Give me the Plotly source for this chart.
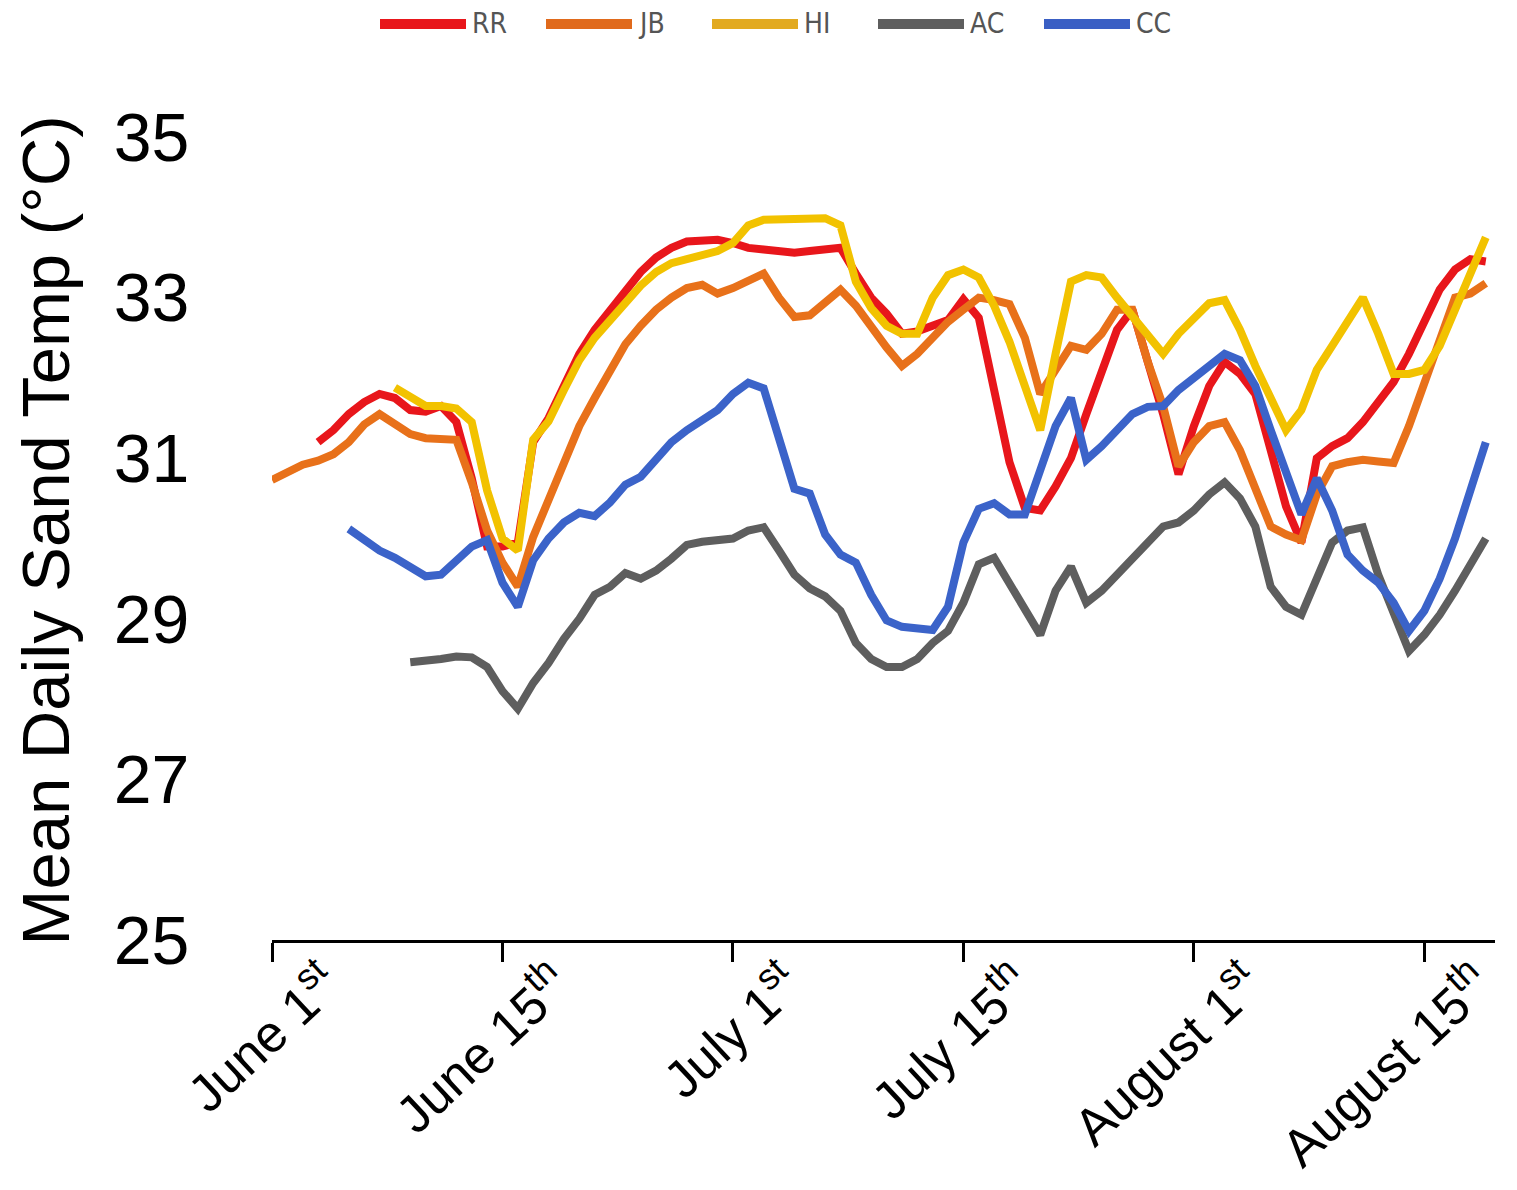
import plotly.graph_objects as go

# Mean daily sand temperature, summer season
# x is the day of the season (June 1st = 0), ticks every 15 days like the original figure

tick_days = [0, 15, 30, 45, 60, 75]
tick_text = ["June 1<sup>st</sup>", "June 15<sup>th</sup>", "July 1<sup>st</sup>",
             "July 15<sup>th</sup>", "August 1<sup>st</sup>", "August 15<sup>th</sup>"]
temp_ticks = [25, 27, 29, 31, 33, 35]

rr_day = list(range(3, 80))
rr_temp = [31.2, 31.35, 31.55, 31.7, 31.8, 31.75, 31.6, 31.58, 31.65, 31.45,
           30.75, 29.9, 29.9, 29.95, 31.2, 31.5, 31.9, 32.3, 32.6, 32.85,
           33.1, 33.32, 33.5, 33.62, 33.7, 33.72, 33.72, 33.68, 33.62, 33.6,
           33.57, 33.56, 33.58, 33.6, 33.62, 33.3, 33.0, 32.8, 32.55, 32.58,
           32.65, 32.72, 32.98, 32.75, 31.85, 30.95, 30.38, 30.35, 30.65, 31.0,
           31.55, 32.1, 32.6, 32.85, 32.2, 31.55, 30.8, 31.4, 31.9, 32.2,
           32.05, 31.8, 31.1, 30.4, 29.95, 31.0, 31.15, 31.25, 31.45, 31.7,
           31.95, 32.3, 32.7, 33.1, 33.35, 33.48, 33.45]

jb_day = list(range(0, 80))
jb_temp = [30.73, 30.82, 30.92, 30.97, 31.05, 31.2, 31.42, 31.55, 31.43, 31.3,
           31.25, 31.24, 31.23, 30.7, 30.1, 29.7, 29.4, 30.02, 30.5, 30.95,
           31.4, 31.75, 32.1, 32.42, 32.65, 32.85, 33.0, 33.12, 33.16, 33.05,
           33.12, 33.2, 33.3, 33.0, 32.76, 32.78, 32.95, 33.1, 32.9, 32.62,
           32.38, 32.15, 32.3, 32.5, 32.7, 32.85, 33.0, 32.97, 32.92, 32.5,
           31.8, 32.1, 32.4, 32.35, 32.55, 32.85, 32.85, 32.2, 31.65, 30.9,
           31.2, 31.4, 31.45, 31.1, 30.6, 30.15, 30.05, 29.98, 30.55, 30.9,
           30.95, 30.98, 30.96, 30.94, 31.4, 31.95, 32.5, 33.0, 33.05, 33.18]

hi_day = list(range(8, 80))
hi_temp = [31.88, 31.75, 31.65, 31.65, 31.62, 31.45, 30.6, 30.0, 29.85, 31.23,
           31.46, 31.85, 32.22, 32.5, 32.72, 32.95, 33.15, 33.32, 33.43, 33.48,
           33.52, 33.58, 33.68, 33.9, 33.97, 33.98, 33.98, 33.98, 33.99, 33.9,
           33.2, 32.87, 32.65, 32.55, 32.55, 33.0, 33.28, 33.35, 33.25, 32.9,
           32.45, 31.9, 31.35, 32.3, 33.2, 33.28, 33.25, 33.0, 32.76, 32.55,
           32.3, 32.55, 32.75, 32.93, 32.97, 32.6, 32.15, 31.75, 31.35, 31.6,
           32.1, 32.4, 32.7, 33.0, 32.55, 32.05, 32.05, 32.1, 32.4, 32.85,
           33.25, 33.75]

ac_day = list(range(9, 80))
ac_temp = [28.46, 28.47, 28.5, 28.53, 28.52, 28.4, 28.1, 27.88, 28.2, 28.45,
           28.75, 29.0, 29.3, 29.4, 29.57, 29.5, 29.6, 29.75, 29.92, 29.96,
           29.97, 30.0, 30.1, 30.14, 29.85, 29.55, 29.38, 29.28, 29.1, 28.7,
           28.5, 28.4, 28.4, 28.5, 28.7, 28.85, 29.2, 29.68, 29.76, 29.45,
           29.1, 28.8, 29.35, 29.65, 29.2, 29.35, 29.55, 29.75, 29.95, 30.15,
           30.2, 30.35, 30.55, 30.7, 30.5, 30.15, 29.4, 29.15, 29.05, 29.5,
           29.95, 30.1, 30.14, 29.55, 29.1, 28.6, 28.8, 29.05, 29.35, 29.7,
           30.0]

cc_day = list(range(5, 80))
cc_temp = [30.12, 29.97, 29.85, 29.76, 29.63, 29.53, 29.55, 29.72, 29.9, 29.98,
           29.45, 29.15, 29.73, 30.0, 30.2, 30.32, 30.28, 30.45, 30.67, 30.77,
           30.98, 31.2, 31.35, 31.48, 31.6, 31.8, 31.94, 31.87, 31.25, 30.62,
           30.56, 30.05, 29.8, 29.7, 29.3, 28.98, 28.9, 28.88, 28.86, 29.15,
           29.95, 30.37, 30.44, 30.3, 30.3, 30.85, 31.4, 31.75, 30.98, 31.15,
           31.35, 31.55, 31.64, 31.65, 31.85, 32.0, 32.15, 32.3, 32.22, 31.9,
           31.35, 30.8, 30.3, 30.75, 30.35, 29.8, 29.6, 29.45, 29.2, 28.85,
           29.1, 29.5, 30.0, 30.6, 31.2]

sites = ["RR", "JB", "HI", "AC", "CC"]
colors = ["#e8161b", "#e8711a", "#f2c200", "#5e5e5e", "#3b63c9"]
days = [rr_day, jb_day, hi_day, ac_day, cc_day]
temps = [rr_temp, jb_temp, hi_temp, ac_temp, cc_temp]

# the page adds an 8px body margin, so the figure is a bit smaller than the window
W, H = 1509, 1182
L, R, T, B = 264, 22, 113, 250
OFF = 8

fig = go.Figure()
for name, col, d, t in zip(sites, colors, days, temps):
    fig.add_trace(go.Scatter(x=d, y=t, name=name, mode="lines",
                             line=dict(color=col, width=8)))

# legend drawn by hand so the line samples can be long like in the original
def px2paper(px, py):
    return (px - OFF - L) / (W - L - R), (H - B - (py - OFF)) / (H - T - B)

leg_colors = ["#e8161b", "#e06a1c", "#e2aa20", "#5e5e5e", "#3a5fc4"]
for i, (name, col) in enumerate(zip(sites, leg_colors)):
    x0, y0 = px2paper(380 + 166 * i, 24)
    x1, _ = px2paper(466 + 166 * i, 24)
    fig.add_shape(type="line", xref="paper", yref="paper", x0=x0, x1=x1, y0=y0, y1=y0,
                  line=dict(color=col, width=10))
    fig.add_annotation(xref="paper", yref="paper", x=x1, y=y0, text=name,
                       showarrow=False, xanchor="left", yanchor="middle", xshift=5,
                       borderpad=0,
                       font=dict(family="DejaVu Sans Condensed, Liberation Sans Narrow, Liberation Sans",
                                 size=28, color="#555555"))

fig.update_layout(
    width=W, height=H,
    margin=dict(l=L, r=R, t=T, b=B),
    plot_bgcolor="white", paper_bgcolor="white",
    showlegend=False,
    font=dict(family="Liberation Sans, Arial, sans-serif", color="black"),
)
fig.update_xaxes(range=[0, 79.6], tickvals=tick_days, ticktext=tick_text,
                 tickangle=-43, ticks="outside", ticklen=19, tickwidth=2.5, tickcolor="black",
                 showline=True, linecolor="black", linewidth=2.5,
                 showgrid=False, zeroline=False, automargin=False,
                 ticklabelshift=54, ticklabelstandoff=-28,
                 tickfont=dict(size=52))
fig.update_yaxes(range=[25, 35.2], tickvals=temp_ticks,
                 ticks="outside", ticklen=68, tickcolor="rgba(0,0,0,0)",
                 showline=False, showgrid=False, zeroline=False, automargin=False,
                 tickfont=dict(size=68),
                 title=dict(text="Mean Daily Sand Temp (°C)", font=dict(size=67), standoff=50))

fig.write_html("out.html")
